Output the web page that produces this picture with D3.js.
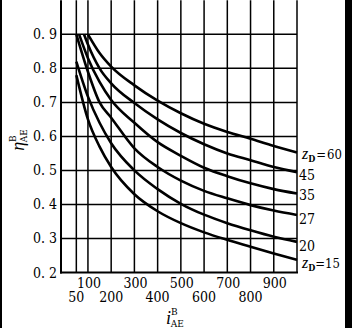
<!DOCTYPE html>
<html><head><meta charset="utf-8">
<script src="https://cdn.jsdelivr.net/npm/d3@7/dist/d3.min.js"></script>
<style>html,body{margin:0;padding:0;background:#fff;}svg{display:block;}
text{font-family:"Liberation Serif","Times New Roman",serif;}
.num{font-family:"DejaVu Serif Condensed","DejaVu Serif",serif;font-stretch:condensed;}</style>
</head><body>
<script>
const xTicksRow1 = [100, 300, 500, 700, 900];
const xTicksRow2 = [50, 200, 400, 600, 800];
const xGrid = [50, 100, 200, 300, 400, 500, 600, 700, 800, 900, 1000];
const yTicks = [0.2, 0.3, 0.4, 0.5, 0.6, 0.7, 0.8, 0.9];
const yTickLabels = ["0. 2", "0. 3", "0. 4", "0. 5", "0. 6", "0. 7", "0. 8", "0. 9"];

const z60_i = [100, 150, 200, 300, 400, 500, 600, 700, 800, 900, 1000];
const z60_eta = [0.9, 0.845, 0.805, 0.75, 0.705, 0.668, 0.637, 0.613, 0.593, 0.572, 0.553];
const z45_i = [83, 100, 150, 200, 300, 400, 500, 600, 700, 800, 900, 1000];
const z45_eta = [0.9, 0.87, 0.80, 0.756, 0.698, 0.65, 0.61, 0.577, 0.55, 0.53, 0.51, 0.495];
const z35_i = [62, 100, 150, 200, 300, 400, 500, 600, 700, 800, 900, 1000];
const z35_eta = [0.9, 0.83, 0.76, 0.707, 0.64, 0.583, 0.543, 0.508, 0.483, 0.462, 0.445, 0.432];
const z27_i = [50, 100, 150, 200, 300, 400, 500, 600, 700, 800, 900, 1000];
const z27_eta = [0.9, 0.79, 0.70, 0.655, 0.565, 0.51, 0.47, 0.44, 0.418, 0.398, 0.382, 0.369];
const z20_i = [50, 100, 150, 200, 300, 400, 500, 600, 700, 800, 900, 1000];
const z20_eta = [0.82, 0.717, 0.64, 0.58, 0.50, 0.445, 0.402, 0.37, 0.345, 0.324, 0.305, 0.29];
const z15_i = [50, 100, 150, 200, 300, 400, 500, 600, 700, 800, 900, 1000];
const z15_eta = [0.78, 0.65, 0.57, 0.51, 0.43, 0.38, 0.345, 0.318, 0.296, 0.276, 0.256, 0.237];

const seriesLabels = ["60", "45", "35", "27", "20", "15"];

const series = [
  {i: z60_i, eta: z60_eta, label: seriesLabels[0], full: true, spaced: true},
  {i: z45_i, eta: z45_eta, label: seriesLabels[1]},
  {i: z35_i, eta: z35_eta, label: seriesLabels[2]},
  {i: z27_i, eta: z27_eta, label: seriesLabels[3]},
  {i: z20_i, eta: z20_eta, label: seriesLabels[4]},
  {i: z15_i, eta: z15_eta, label: seriesLabels[5], full: true, spaced: false}
];

const W = 352, H = 328;
const svg = d3.select("body").append("svg").attr("width", W).attr("height", H);
svg.append("rect").attr("width", W).attr("height", H).attr("fill", "#fff");

const x = d3.scaleLinear().domain([-16, 1000]).range([61, 297]);
const y = d3.scaleLinear().domain([0.2, 1.0]).range([272.5, 0.3]);

// grid
const g = svg.append("g");
g.selectAll("line.v").data(xGrid).enter().append("line")
  .attr("x1", d => x(d)).attr("x2", d => x(d))
  .attr("y1", y(1.0)).attr("y2", y(0.2))
  .attr("stroke", "#000").attr("stroke-width", 1.5);
g.selectAll("line.h").data(yTicks.slice(1)).enter().append("line")
  .attr("x1", x(-16)).attr("x2", x(1000))
  .attr("y1", d => y(d)).attr("y2", d => y(d))
  .attr("stroke", "#000").attr("stroke-width", 1.5);
// axes
g.append("line").attr("x1", x(-16)).attr("x2", x(-16)).attr("y1", y(1.0)).attr("y2", y(0.2) + 1)
  .attr("stroke", "#000").attr("stroke-width", 2);
g.append("line").attr("x1", x(-16) - 1).attr("x2", x(1000) + 1).attr("y1", y(0.2)).attr("y2", y(0.2))
  .attr("stroke", "#000").attr("stroke-width", 2);

// y tick labels
svg.selectAll("text.yt").data(yTicks).enter().append("text")
  .attr("class", "num")
  .attr("x", 57).attr("y", d => y(d) + 5)
  .attr("text-anchor", "end").attr("font-size", 14)
  .text((d, k) => yTickLabels[k]);
// x tick labels
svg.selectAll("text.xt1").data(xTicksRow1).enter().append("text")
  .attr("class", "num")
  .attr("x", d => x(d) + 1).attr("y", 287.5)
  .attr("text-anchor", "middle").attr("font-size", 14)
  .text(d => d);
svg.selectAll("text.xt2").data(xTicksRow2).enter().append("text")
  .attr("class", "num")
  .attr("x", d => x(d)).attr("y", 301.5)
  .attr("text-anchor", "middle").attr("font-size", 14)
  .text(d => d);

// curves
const line = d3.line().x(d => x(d[0])).y(d => y(d[1])).curve(d3.curveMonotoneX);
svg.selectAll("path.s").data(series).enter().append("path")
  .attr("d", s => line(s.i.map((v, k) => [v, s.eta[k]])))
  .attr("fill", "none").attr("stroke", "#000").attr("stroke-width", 2.6);

// series labels
series.forEach(s => {
  const yy = y(s.eta[s.eta.length - 1]);
  const t = svg.append("text").attr("font-size", 14);
  if (s.full) {
    const ly = s.spaced ? yy + 7 : yy + 8;
    t.attr("x", 302).attr("y", ly);
    t.append("tspan").attr("font-style", "italic").attr("font-size", 16).text("z");
    t.append("tspan").attr("class", "num").attr("font-size", 9).attr("font-weight", "bold").attr("dy", 3).text("D");
    t.append("tspan").attr("class", "num").attr("font-size", 13).attr("dy", -3).attr("dx", s.spaced ? 1 : 0).text("=");
    t.append("tspan").attr("class", "num").attr("font-size", 13).attr("dx", s.spaced ? 1 : 0).text(s.label);
  } else {
    const off = {"45": 8, "35": 6, "27": 9, "20": 9}[s.label];
    t.attr("class", "num").attr("x", 299).attr("y", yy + off).text(s.label);
  }
});

// y axis title
const yt = svg.append("text").attr("transform", "translate(24,140) rotate(-90)")
  .attr("font-size", 18).attr("text-anchor", "middle");
yt.append("tspan").attr("font-style", "italic").text("η");
yt.append("tspan").attr("class", "num").attr("font-size", 10).attr("dy", -8).text("B");
yt.append("tspan").attr("class", "num").attr("font-size", 10).attr("dx", -7).attr("dy", 11).text("AE");

// x axis title
const xt = svg.append("text").attr("x", 166).attr("y", 324)
  .attr("font-size", 18);
xt.append("tspan").attr("font-style", "italic").text("i");
xt.append("tspan").attr("class", "num").attr("font-size", 10).attr("dy", -9).text("B");
xt.append("tspan").attr("class", "num").attr("font-size", 10).attr("dx", -7).attr("dy", 12).text("AE");

// black edge strips
svg.append("rect").attr("x", 0).attr("y", 0).attr("width", 2).attr("height", H).attr("fill", "#000");
svg.append("rect").attr("x", 345).attr("y", 0).attr("width", 7).attr("height", H).attr("fill", "#000");
</script>
</body></html>
